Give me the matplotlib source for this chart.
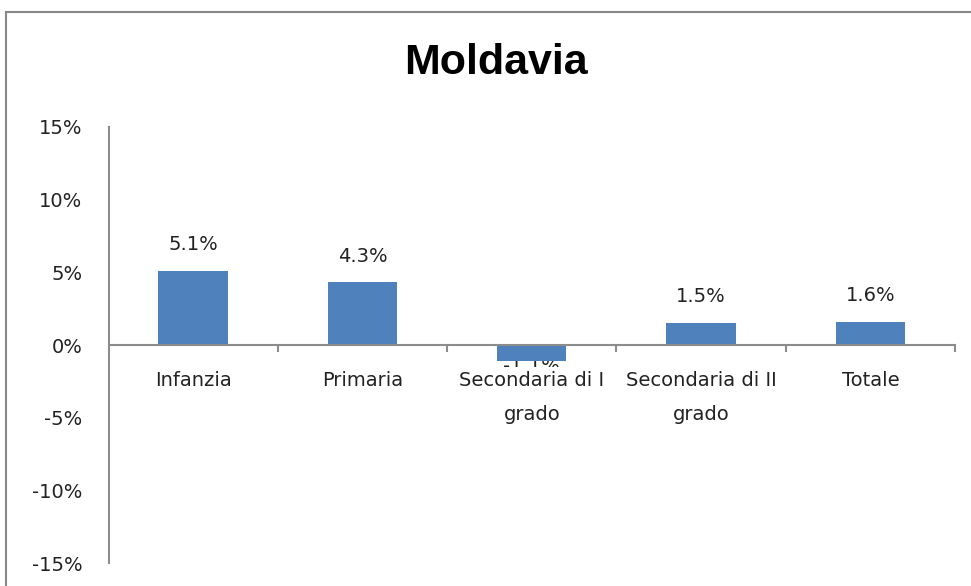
import matplotlib.pyplot as plt
from matplotlib.lines import Line2D
from matplotlib.ticker import FuncFormatter

categories = ["Infanzia", "Primaria", "Secondaria di I\ngrado", "Secondaria di II\ngrado", "Totale"]
values = [5.1, 4.3, -1.1, 1.5, 1.6]
title = "Moldavia"

bar_color = "#4F81BD"
axis_color = "#8C8C8C"
text_color = "#222222"

fig = plt.figure(figsize=(9.71, 5.86), dpi=100)
ax = fig.add_axes([0.1118, 0.0384, 0.8717, 0.7457])

x = list(range(len(categories)))
ax.bar(x, values, width=0.41, color=bar_color, zorder=1)

ax.set_xlim(-0.5, len(categories) - 0.5)
ax.set_ylim(-15, 15)
ax.set_yticks([-15, -10, -5, 0, 5, 10, 15])
ax.yaxis.set_major_formatter(FuncFormatter(lambda v, p: f"{v:.0f}%"))
ax.tick_params(axis="y", length=0, pad=19, labelsize=14, labelcolor=text_color)

# tick marks sit on the category boundaries
ax.set_xticks([i + 0.5 for i in x[:-1]] + [len(categories) - 0.5])
ax.set_xticklabels([])
ax.tick_params(axis="x", which="major", direction="out", length=5, width=1.5, color=axis_color)

ax.spines["bottom"].set_position(("data", 0))
ax.spines["top"].set_visible(False)
ax.spines["right"].set_visible(False)
for s in ("left", "bottom"):
    ax.spines[s].set_color(axis_color)
    ax.spines[s].set_linewidth(1.5)

# category labels (white boxes, drawn over the negative bar's label as in Excel)
for xi, cat in zip(x, categories):
    ax.annotate(cat, (xi, 0), xytext=(0, -19), textcoords="offset points",
                ha="center", va="top", fontsize=14, color=text_color,
                linespacing=2.0, zorder=5,
                bbox=dict(facecolor="white", edgecolor="none", pad=3))

for xi, v in zip(x, values):
    if v >= 0:
        ax.annotate(f"{v:.1f}%", (xi, v), xytext=(0, 12), textcoords="offset points",
                    ha="center", va="bottom", fontsize=14, color=text_color, zorder=2)
    else:
        ax.annotate(f"{v:.1f}%", (xi, v), xytext=(0, -4), textcoords="offset points",
                    ha="center", va="center", fontsize=14, color=text_color, zorder=0.5)

fig.text(0.511, 0.893, title, ha="center", va="center", fontsize=31,
         fontweight="bold", family="Liberation Sans")

# chart area frame (only left and top edges are in view)
fig.add_artist(Line2D([0.0062, 0.0062], [0, 0.9795], transform=fig.transFigure, color="#888888", lw=1.5))
fig.add_artist(Line2D([0.0062, 1], [0.9795, 0.9795], transform=fig.transFigure, color="#888888", lw=1.5))

fig.savefig("out.png", dpi=100)
